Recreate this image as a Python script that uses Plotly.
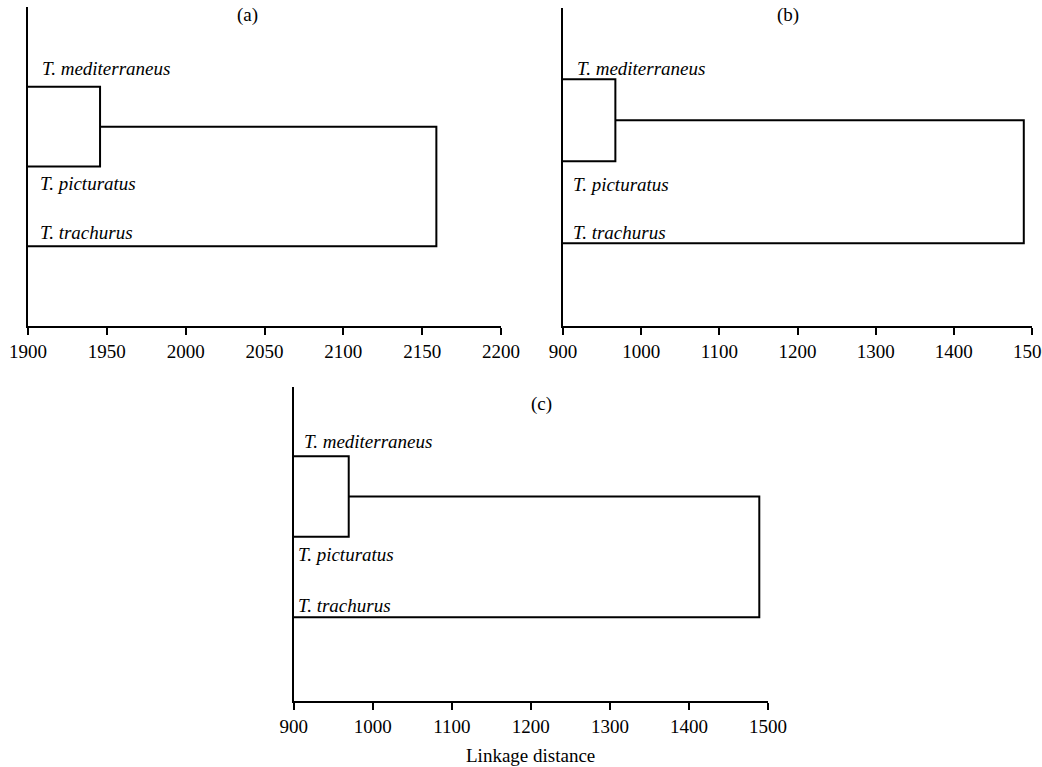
import plotly.graph_objects as go

W, H = 1042, 767

species = ["T. mediterraneus", "T. picturatus", "T. trachurus"]
leaf_pos = [1, 2, 3]
panels = ["(a)", "(b)", "(c)"]

# merge heights (linkage distance) per panel: [first merge (med+pic), second merge (+trachurus)]
merge_a = [1945.7, 2159.0]
merge_b = [967.0, 1489.5]
merge_c = [969.6, 1489.0]
merges = [merge_a, merge_b, merge_c]

ticks_a = [1900, 1950, 2000, 2050, 2100, 2150, 2200]
ticks_bc = [900, 1000, 1100, 1200, 1300, 1400, 1500]
tick_sets = [ticks_a, ticks_bc, ticks_bc]

xlabel = "Linkage distance"

FONT = "Liberation Serif, Times New Roman, serif"
FS = 19

# layout boxes in pixels: (left, right, top, bottom), y range
boxes = [
    (28, 501, 7, 326, [4.0, 0.0]),
    (563, 1032, 8, 326, [4.01, 0.13]),
    (293.7, 768, 387, 701, [4.04, 0.14]),
]
# label offsets (xshift, yshift) per panel for each species
label_offsets = [
    [(12, 18), (10, -17), (10, 14)],
    [(12, 11), (8, -23), (8, 11)],
    [(8, 15), (2, -18), (2, 12)],
]
title_pos = [(247, 15), (788, 15), (541, 404)]

fig = go.Figure()
annotations = []
for i in range(3):
    ax = "" if i == 0 else str(i + 1)
    xref, yref = "x" + ax, "y" + ax
    ticks = tick_sets[i]
    xmin = ticks[0]
    m1, m2 = merges[i]
    y1, y2, y3 = leaf_pos
    ymid = (y1 + y2) / 2
    # cluster 1: med + pic
    fig.add_trace(go.Scatter(
        x=[xmin, m1, m1, xmin], y=[y1, y1, y2, y2],
        mode="lines", line=dict(color="black", width=2),
        xaxis=xref, yaxis=yref, showlegend=False, hoverinfo="skip", cliponaxis=False))
    # cluster 2: (med+pic) + trachurus
    fig.add_trace(go.Scatter(
        x=[m1, m2, m2, xmin], y=[ymid, ymid, y3, y3],
        mode="lines", line=dict(color="black", width=2),
        xaxis=xref, yaxis=yref, showlegend=False, hoverinfo="skip", cliponaxis=False))

    l, r, t, b, yr = boxes[i]
    fig.update_layout(**{
        "xaxis" + ax: dict(
            domain=[l / W, r / W], range=[ticks[0], ticks[-1]], tickvals=ticks,
            ticks="outside", ticklen=7, tickwidth=2, tickcolor="black",
            showline=True, linecolor="black", linewidth=2, showgrid=False, zeroline=False,
            tickfont=dict(family=FONT, size=FS, color="black"), anchor=yref,
            automargin=False, ticklabeloverflow="allow",
        ),
        "yaxis" + ax: dict(
            domain=[1 - b / H, 1 - t / H], range=yr, showticklabels=False, ticks="",
            showline=True, linecolor="black", linewidth=2, showgrid=False, zeroline=False,
            anchor=xref, automargin=False,
        ),
    })
    for j, name in enumerate(species):
        xs, ys = label_offsets[i][j]
        annotations.append(dict(
            x=xmin, y=leaf_pos[j], xref=xref, yref=yref, text="<i>" + name + "</i>",
            showarrow=False, xanchor="left", yanchor="middle", xshift=xs, yshift=ys,
            font=dict(family=FONT, size=FS, color="black")))
    tx, ty = title_pos[i]
    annotations.append(dict(
        x=tx / W, y=1 - ty / H, xref="paper", yref="paper", text=panels[i],
        showarrow=False, xanchor="center", yanchor="middle",
        font=dict(family=FONT, size=FS, color="black")))

annotations.append(dict(
    x=530 / W, y=1 - 755 / H, xref="paper", yref="paper", text=xlabel,
    showarrow=False, xanchor="center", yanchor="middle",
    font=dict(family=FONT, size=FS, color="black")))

fig.update_layout(
    width=W, height=H, margin=dict(l=0, r=0, t=0, b=0, autoexpand=False),
    paper_bgcolor="white", plot_bgcolor="white",
    annotations=annotations, showlegend=False,
)

fig.write_html(
    "out.html",
    config={"displayModeBar": False},
    post_script="document.body.style.margin='0';document.body.style.overflow='hidden';",
)
